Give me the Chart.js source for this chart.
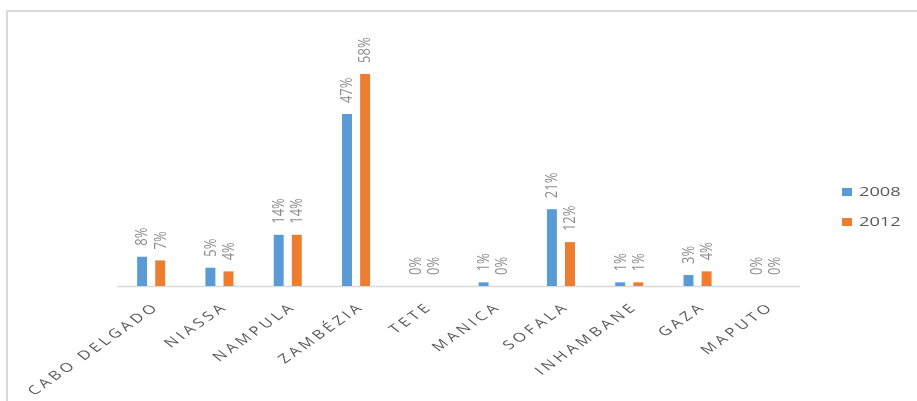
<!DOCTYPE html>
<html>
<head>
<meta charset="utf-8">
<script src="https://cdn.jsdelivr.net/npm/chart.js@4.4.0/dist/chart.umd.min.js"></script>
<style>
  html, body { margin: 0; padding: 0; background: #fff; }
  #wrap { position: relative; width: 917px; height: 401px; overflow: hidden; }
  #frame {
    position: absolute; left: 6px; top: 10px; width: 920px; height: 400px;
    border-left: 2px solid #d9d9d9; border-top: 2px solid #d9d9d9;
  }
  #chart { position: absolute; left: 0; top: 0; }
</style>
</head>
<body>
<div id="wrap">
  <div id="frame"></div>
  <canvas id="chart" width="917" height="401"></canvas>
</div>
<script>
// provincias e percentagens (%)
var categories = ['CABO DELGADO', 'NIASSA', 'NAMPULA', 'ZAMBÉZIA', 'TETE', 'MANICA', 'SOFALA', 'INHAMBANE', 'GAZA', 'MAPUTO'];
var years = ['2008', '2012'];
var values2008 = [8, 5, 14, 47, 0, 1, 21, 1, 3, 0];
var values2012 = [7, 4, 14, 58, 0, 0, 12, 1, 4, 0];

var BLUE = '#5b9bd5';
var ORANGE = '#ed7d31';
var STRETCH = 1.35; // o original esta esticado na horizontal

// linha do eixo x
var axisLine = {
    id: 'axisLine',
    beforeDatasetsDraw: function (chart) {
        var ctx = chart.ctx, a = chart.chartArea;
        ctx.save();
        ctx.strokeStyle = '#d9d9d9';
        ctx.lineWidth = 1.5;
        ctx.beginPath();
        ctx.moveTo(a.left, a.bottom + 0.5);
        ctx.lineTo(a.right, a.bottom + 0.5);
        ctx.stroke();
        ctx.restore();
    }
};

// rotulos de valor, na vertical
var valueLabels = {
    id: 'valueLabels',
    afterDatasetsDraw: function (chart) {
        var ctx = chart.ctx;
        chart.data.datasets.forEach(function (ds, i) {
            chart.getDatasetMeta(i).data.forEach(function (bar, j) {
                ctx.save();
                ctx.translate(bar.x + 0.5, bar.y - 11);
                ctx.rotate(-Math.PI / 2);
                ctx.scale(1, 1.3);
                ctx.font = '13px "Open Sans"';
                ctx.fillStyle = '#8c8c8c';
                ctx.textAlign = 'left';
                ctx.textBaseline = 'middle';
                ctx.fillText(ds.data[j] + '%', 0, 0);
                ctx.restore();
            });
        });
    }
};

// nomes das provincias inclinados (35 graus depois de esticar)
var categoryLabels = {
    id: 'categoryLabels',
    afterDraw: function (chart) {
        var ctx = chart.ctx, xs = chart.scales.x, a = chart.chartArea;
        var ang = Math.atan(STRETCH * Math.tan(35 * Math.PI / 180));
        ctx.save();
        ctx.font = '12.5px "Open Sans"';
        ctx.fillStyle = '#595959';
        ctx.textAlign = 'right';
        ctx.textBaseline = 'middle';
        ctx.letterSpacing = '2.8px';
        chart.data.labels.forEach(function (lbl, i) {
            var x = xs.getPixelForValue(i);
            ctx.save();
            ctx.translate(x + 6, a.bottom + 19);
            ctx.scale(STRETCH, 1);
            ctx.rotate(-ang);
            ctx.fillText(lbl, 0, 0);
            ctx.restore();
        });
        ctx.restore();
    }
};

// legenda a direita
var sideLegend = {
    id: 'sideLegend',
    afterDraw: function (chart) {
        var ctx = chart.ctx;
        chart.data.datasets.forEach(function (ds, i) {
            var y = 192 + i * 30;
            ctx.save();
            ctx.fillStyle = ds.backgroundColor;
            ctx.fillRect(842, y - 4, 10, 8);
            ctx.translate(859, y);
            ctx.scale(STRETCH, 1);
            ctx.font = '13.5px "Open Sans"';
            ctx.fillStyle = '#595959';
            ctx.textAlign = 'left';
            ctx.textBaseline = 'middle';
            ctx.fillText(ds.label, 0, 0);
            ctx.restore();
        });
    }
};

new Chart(document.getElementById('chart'), {
    type: 'bar',
    data: {
        labels: categories,
        datasets: [
            { label: years[0], data: values2008, backgroundColor: BLUE },
            { label: years[1], data: values2012, backgroundColor: ORANGE }
        ]
    },
    options: {
        responsive: false,
        animation: false,
        layout: { padding: { left: 117, right: 117, top: 30, bottom: 115 } },
        datasets: {
            bar: { categoryPercentage: 0.53, barPercentage: 0.55 }
        },
        scales: {
            x: { display: false },
            y: { display: false, min: 0, max: 70 }
        },
        plugins: {
            legend: { display: false },
            tooltip: { enabled: false }
        }
    },
    plugins: [axisLine, valueLabels, categoryLabels, sideLegend]
});
</script>
</body>
</html>
